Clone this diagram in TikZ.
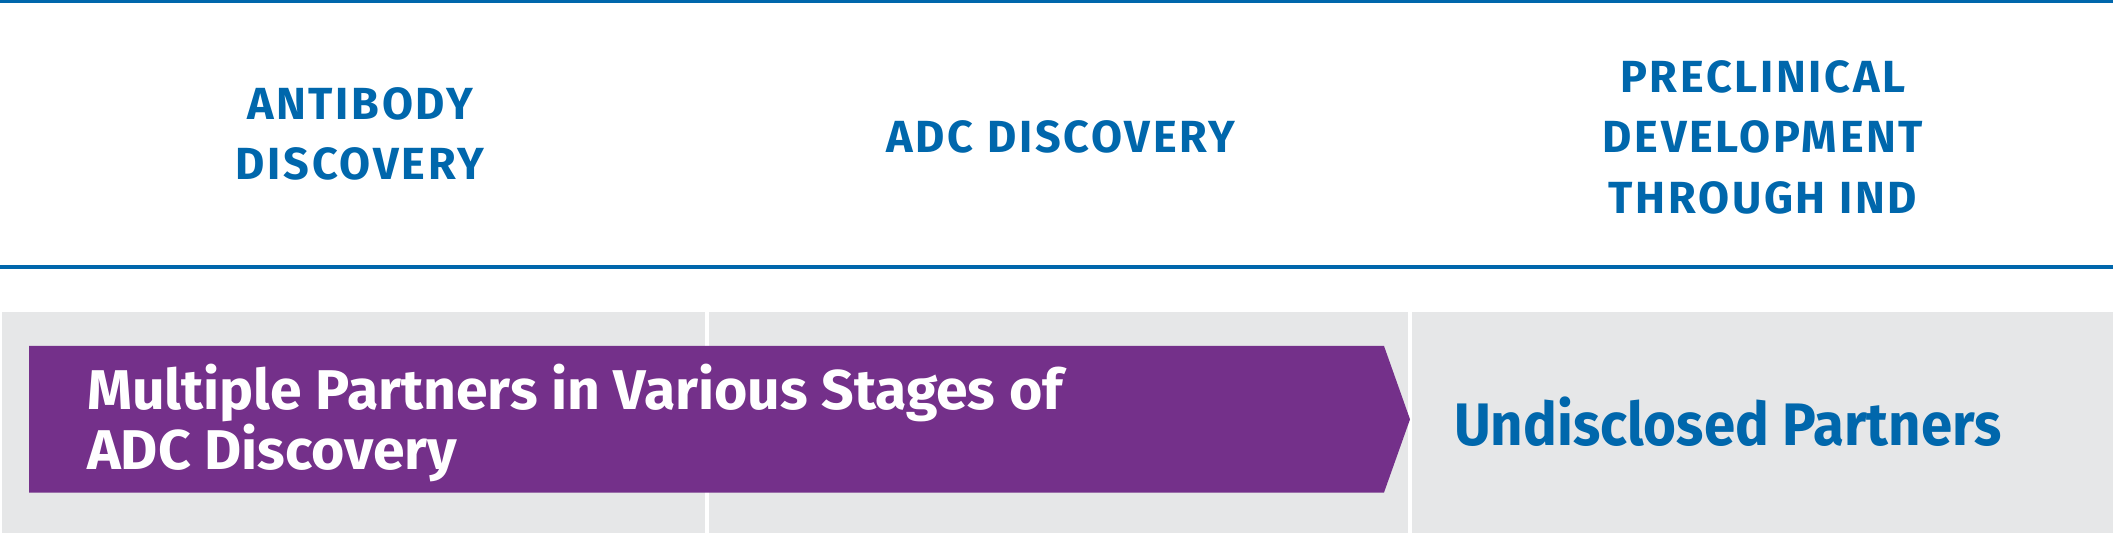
\documentclass[tikz,border=0pt]{standalone}
\usepackage{fontspec}
\setmainfont{Fira Sans}
\newfontfamily\hdfont[LetterSpace=6]{Fira Sans}
\newfontfamily\cdfont[FakeStretch=1.02]{Fira Sans}
\newfontfamily\ptfont[FakeStretch=0.94]{Fira Sans}
\definecolor{hdblue}{HTML}{0067AC}
\definecolor{barpurple}{HTML}{74308A}
\definecolor{panelgray}{HTML}{E6E7E8}
\tikzset{
  header/.style={font=\hdfont\bfseries\fontsize{45}{60.5}\selectfont, text=hdblue, align=center, inner sep=0pt},
  bartext/.style={font=\cdfont\bfseries\fontsize{56}{60}\selectfont, text=white, align=left, inner sep=0pt},
  parttext/.style={font=\ptfont\bfseries\fontsize{60}{64}\selectfont, text=hdblue, inner sep=0pt},
}
\begin{document}
\begin{tikzpicture}[x=1pt,y=-1pt]
\useasboundingbox (0,0) rectangle (2113,537);
% rules
\fill[hdblue] (0,0) rectangle (2113,3.3);
\fill[hdblue] (0,265) rectangle (2113,269);
% panel
\fill[panelgray] (2,312) rectangle (2113,533);
\fill[white] (705,312) rectangle (709,533);
\fill[white] (1408,312) rectangle (1412,533);
% arrow bar
\fill[barpurple] (29,346) -- (1384,346) -- (1410,419.3) -- (1384,492.5) -- (29,492.5) -- cycle;
% headers
\node[header] (h1) at (360,134) {ANTIBODY\\DISCOVERY};
\node[header] (h2) at (1061,137) {ADC DISCOVERY};
\node[header] (h3) at (1763,137) {PRECLINICAL\\DEVELOPMENT\\THROUGH IND};
% bar texts
\node[bartext, anchor=west] (t1) at (87,423.5) {Multiple Partners in Various Stages of\\ADC Discovery};
\node[parttext, anchor=west] (t2) at (1454,422) {Undisclosed Partners};
\end{tikzpicture}
\end{document}
